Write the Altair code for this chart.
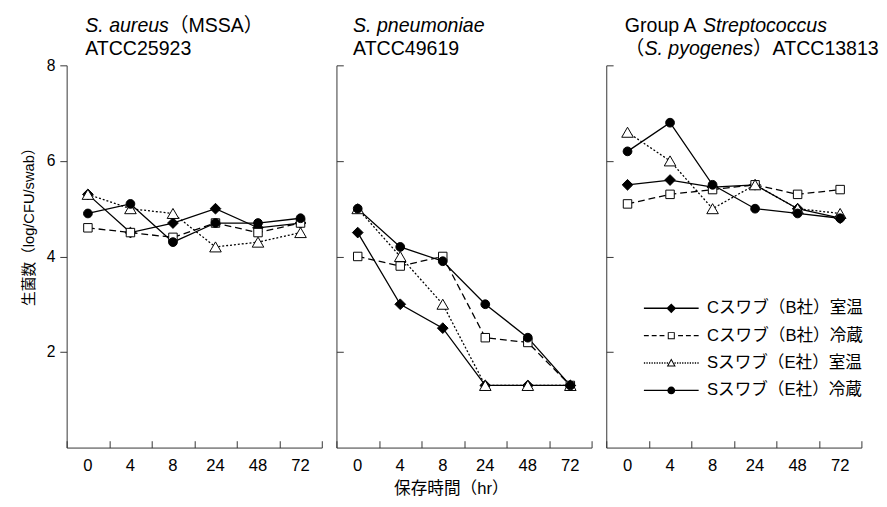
import altair as alt
import pandas as pd

# ---------------- data ----------------
times = ["0", "4", "8", "24", "48", "72"]
series = ["Cスワブ（B社）室温", "Cスワブ（B社）冷蔵", "Sスワブ（E社）室温", "Sスワブ（E社）冷蔵"]

aureus_c_rt = [5.3, 4.5, 4.7, 5.0, 4.6, 4.7]
aureus_c_cold = [4.6, 4.5, 4.4, 4.7, 4.5, 4.7]
aureus_s_rt = [5.3, 5.0, 4.9, 4.2, 4.3, 4.5]
aureus_s_cold = [4.9, 5.1, 4.3, 4.7, 4.7, 4.8]

pneumo_c_rt = [4.5, 3.0, 2.5, 1.3, 1.3, 1.3]
pneumo_c_cold = [4.0, 3.8, 4.0, 2.3, 2.2, 1.3]
pneumo_s_rt = [5.0, 4.0, 3.0, 1.3, 1.3, 1.3]
pneumo_s_cold = [5.0, 4.2, 3.9, 3.0, 2.3, 1.3]

pyo_c_rt = [5.5, 5.6, 5.45, 5.5, 5.0, 4.8]
pyo_c_cold = [5.1, 5.3, 5.4, 5.5, 5.3, 5.4]
pyo_s_rt = [6.6, 6.0, 5.0, 5.5, 5.0, 4.9]
pyo_s_cold = [6.2, 6.8, 5.5, 5.0, 4.9, 4.8]

y_ticks = [2, 4, 6, 8]
y_title = "生菌数（log/CFU/swab）"
x_title = "保存時間（hr）"

# panel titles: (text, italic) pieces per line
titles1 = [[("S. aureus", True), ("（MSSA）", False)], [("ATCC25923", False)]]
titles2 = [[("S. pneumoniae", True)], [("ATCC49619", False)]]
titles3 = [[("Group A ", False), ("Streptococcus", True)],
           [("（", False), ("S. pyogenes", True), ("）ATCC13813", False)]]

# ---------------- styles ----------------
FONT = "Liberation Sans, Noto Sans CJK JP"
W, H = 261, 391
TITLE_FS = 20
AX = "#333"
dashes = [None, [7, 4], [2, 2], None]
shapes = ["diamond", "square", "triangle-up", "circle"]
fills = ["black", "white", "white", "black"]
sizes = [120, 75, 140, 80]

ARIAL = {"S": 667, ".": 278, " ": 278, "a": 556, "u": 556, "r": 333, "e": 556, "s": 500,
         "p": 556, "n": 556, "m": 833, "o": 556, "i": 222, "t": 278, "c": 500, "y": 500,
         "g": 556, "G": 778, "A": 667, "C": 722, "T": 611, "M": 833, "（": 1000, "）": 800}
for d in "0123456789":
    ARIAL[d] = 556


def text_width(s, fs):
    return sum(ARIAL.get(ch, 600) for ch in s) * fs / 1000.0


def rect(x0, x1, h=0.7):
    return f"M{x0},{-h}H{x1}V{h}H{x0}Z"


def line_path(style, gap):
    segs = []
    if style == "solid":
        segs.append(rect(-28, -gap))
        segs.append(rect(gap, 28))
    else:
        dash, period = (5, 8) if style == "dash" else (1.3, 2.6)
        x = -28.0
        while x + dash <= -gap + 0.01:
            segs.append(rect(round(x, 2), round(x + dash, 2)))
            segs.append(rect(round(-x - dash, 2), round(-x, 2)))
            x += period
    return "".join(segs)


legend_paths = [
    line_path("solid", 0) + "M0,-5L5,0L0,5L-5,0Z",
    line_path("dash", 3.6) + "M-3.6,-3.6H3.6V3.6H-3.6Z" + "M-2.6,-2.6V2.6H2.6V-2.6Z",
    line_path("dot", 2.6) + "M0,-4.6L4.6,3.6L-4.6,3.6Z" + "M0,-2.5L-2.8,2.6L2.8,2.6Z",
    line_path("solid", 0) + "M4,0A4,4 0 1,1 -4,0A4,4 0 1,1 4,0Z",
]


def make_df(vals):
    rows = []
    for s, v in zip(series, vals):
        for t, val in zip(times, v):
            rows.append({"time": t, "series": s, "value": val})
    return pd.DataFrame(rows)


def title_layers(lines, x0):
    layers = []
    baselines = [-34.5, -10.5]
    for line, yb in zip(lines, baselines):
        x = x0
        for txt, italic in line:
            layers.append(
                alt.Chart(pd.DataFrame({"t": [txt]}))
                .mark_text(align="left", baseline="alphabetic", font=FONT, fontSize=TITLE_FS,
                           fontStyle="italic" if italic else "normal", color="black")
                .encode(text="t:N", x=alt.value(x), y=alt.value(yb))
            )
            x += text_width(txt, TITLE_FS)
    return layers


X_SCALE = alt.Scale(type="band", domain=times, paddingInner=0, paddingOuter=0)
Y_SCALE = alt.Scale(domain=[0, 8], nice=False, zero=False)


def panel(vals, lines, x0, first=False, mid=False, legend=False):
    df = make_df(vals)
    base = alt.Chart(df)

    # axes: bottom/left carry domain + labels; top/right (offset into plot) carry inward ticks
    x_bottom = alt.Axis(
        orient="bottom", title=x_title if mid else None, ticks=False, labelPadding=10,
        labelAngle=0, labelFontSize=17, labelFont=FONT, labelColor="black", domainColor=AX,
        titleFont=FONT, titleFontSize=17, titleFontWeight="normal", titleColor="black",
        titleX=117, titleY=42, titleAlign="center", titleBaseline="middle",
    )
    x_ticks = alt.Axis(orient="top", offset=-H, labels=False, domain=False, title=None,
                       ticks=True, tickSize=7, tickBand="extent", tickColor=AX)
    if first:
        y_left = alt.Axis(orient="left", values=y_ticks, title=y_title, tickSize=7, labelPadding=5,
                          labelFontSize=16, labelFont=FONT, labelColor="black",
                          domainColor=AX, tickColor=AX, grid=False,
                          titleFont=FONT, titleFontSize=15, titleFontWeight="normal",
                          titleColor="black", titleX=-39, titleY=161,
                          titleAlign="center", titleBaseline="middle")
        y_right = None
    else:
        y_left = alt.Axis(orient="left", values=y_ticks, title=None, labels=False, ticks=False,
                          domainColor=AX, grid=False)
        y_right = alt.Axis(orient="right", offset=-W, values=y_ticks, title=None, labels=False,
                           domain=False, ticks=True, tickSize=7, tickColor=AX, grid=False)

    layers = []
    for i, s in enumerate(series):
        kw = dict(color="black", strokeWidth=1.3)
        if dashes[i] is not None:
            kw["strokeDash"] = dashes[i]
        layers.append(
            base.transform_filter(alt.datum.series == s).mark_line(**kw).encode(
                x=alt.X("time:N", sort=times, scale=X_SCALE, axis=x_bottom if i == 0 else None),
                y=alt.Y("value:Q", scale=Y_SCALE, axis=y_left if i == 0 else None),
            )
        )
    for i, s in enumerate(series):
        layers.append(
            base.transform_filter(alt.datum.series == s)
            .mark_point(shape=shapes[i], filled=True, fill=fills[i], stroke="black",
                        strokeWidth=1, size=sizes[i], opacity=1)
            .encode(
                x=alt.X("time:N", sort=times, scale=X_SCALE, axis=x_ticks if i == 0 else None),
                y=alt.Y("value:Q", scale=Y_SCALE, axis=y_right if i == 0 else None),
            )
        )
    layers += title_layers(lines, x0)
    if legend:
        leg = (
            alt.Chart(pd.DataFrame({"key": series}))
            .mark_point(filled=True, color="black", strokeWidth=0, opacity=1)
            .encode(shape=alt.Shape(
                "key:N", scale=alt.Scale(domain=series, range=legend_paths),
                legend=alt.Legend(orient="none", legendX=610, legendY=240, title=None,
                                  labelFont=FONT, labelFontSize=17, labelColor="black",
                                  labelOffset=28, symbolSize=4, symbolStrokeWidth=0,
                                  symbolFillColor="black", symbolOpacity=1, rowPadding=10)))
            .transform_filter("false")
        )
        layers.append(leg)
    return (alt.layer(*layers).properties(width=W, height=H)
            .resolve_axis(x="independent", y="independent"))


p1 = panel([aureus_c_rt, aureus_c_cold, aureus_s_rt, aureus_s_cold], titles1, 19, first=True)
p2 = panel([pneumo_c_rt, pneumo_c_cold, pneumo_s_rt, pneumo_s_cold], titles2, 17, mid=True)
p3 = panel([pyo_c_rt, pyo_c_cold, pyo_s_rt, pyo_s_cold], titles3, 19, legend=True)

chart = (
    alt.hconcat(p1, p2, p3, spacing=13)
    .properties(padding={"left": 14, "top": 2, "right": 0, "bottom": 0})
    .configure_view(stroke=None)
)

chart.save("out.html", embed_options={"renderer": "svg", "actions": False})
